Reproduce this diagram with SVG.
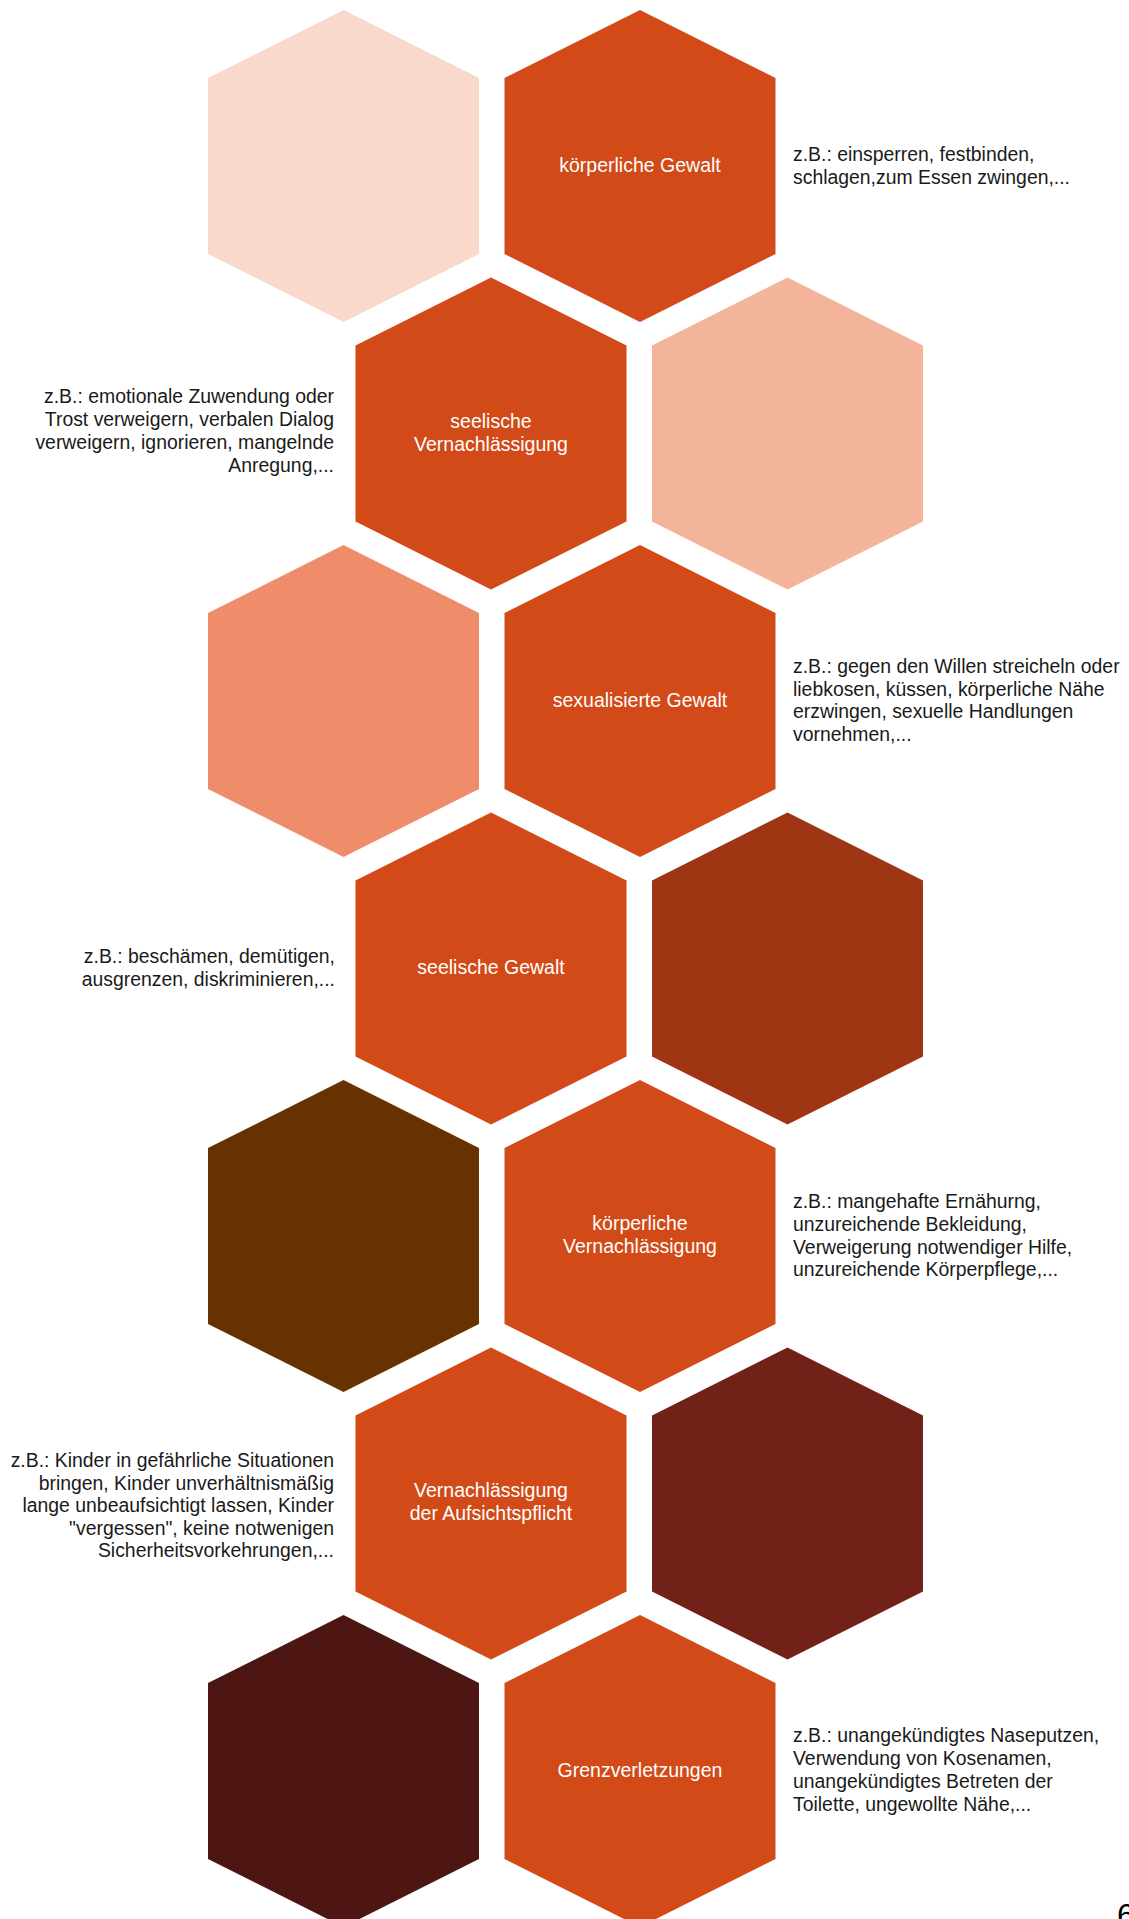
<svg xmlns="http://www.w3.org/2000/svg" width="1129" height="1919" viewBox="0 0 1129 1919">
<style>
  .lbl { font-family: "Liberation Sans", Arial, sans-serif; font-size: 19.5px; fill: #ffffff; text-anchor: middle; }
  .dsc { font-family: "Liberation Sans", Arial, sans-serif; font-size: 19.4px; fill: #1a1a1a; }
  .r { text-anchor: end; }
  .o { fill: #D14A18; }
</style>
<defs>
  <path id="hex" d="M0,0 L135.5,68 L135.5,244 L0,312 L-135.5,244 L-135.5,68 Z"/>
</defs>
<rect x="0" y="0" width="1129" height="1919" fill="#ffffff"/>

<g id="connectors"></g>

<!-- Row 1 -->
<g id="hex-r1-left"><use href="#hex" x="343.5" y="10" fill="#F8D9CC"/></g>
<g id="node-koerperliche-gewalt">
  <use href="#hex" x="640" y="10" class="o"/>
  <text class="lbl" x="640" y="172">körperliche Gewalt</text>
  <text class="dsc" x="793" y="161">z.B.: einsperren, festbinden,</text>
  <text class="dsc" x="793" y="183.5">schlagen,zum Essen zwingen,...</text>
</g>

<!-- Row 2 -->
<g id="node-seelische-vernachlaessigung">
  <use href="#hex" x="491" y="277.5" class="o"/>
  <text class="lbl" x="491" y="428">seelische</text>
  <text class="lbl" x="491" y="451">Vernachlässigung</text>
  <text class="dsc r" x="334" y="403">z.B.: emotionale Zuwendung oder</text>
  <text class="dsc r" x="334" y="426">Trost verweigern, verbalen Dialog</text>
  <text class="dsc r" x="334" y="449">verweigern, ignorieren, mangelnde</text>
  <text class="dsc r" x="334" y="472">Anregung,...</text>
</g>
<g id="hex-r2-right"><use href="#hex" x="787.5" y="277.5" fill="#F3B49B"/></g>

<!-- Row 3 -->
<g id="hex-r3-left"><use href="#hex" x="343.5" y="545" fill="#EF8D6B"/></g>
<g id="node-sexualisierte-gewalt">
  <use href="#hex" x="640" y="545" class="o"/>
  <text class="lbl" x="640" y="707">sexualisierte Gewalt</text>
  <text class="dsc" x="793" y="673">z.B.: gegen den Willen streicheln oder</text>
  <text class="dsc" x="793" y="695.5">liebkosen, küssen, körperliche Nähe</text>
  <text class="dsc" x="793" y="718">erzwingen, sexuelle Handlungen</text>
  <text class="dsc" x="793" y="740.5">vornehmen,...</text>
</g>

<!-- Row 4 -->
<g id="node-seelische-gewalt">
  <use href="#hex" x="491" y="812.5" class="o"/>
  <text class="lbl" x="491" y="974">seelische Gewalt</text>
  <text class="dsc r" x="335" y="963">z.B.: beschämen, demütigen,</text>
  <text class="dsc r" x="335" y="986">ausgrenzen, diskriminieren,...</text>
</g>
<g id="hex-r4-right"><use href="#hex" x="787.5" y="812.5" fill="#9E3513"/></g>

<!-- Row 5 -->
<g id="hex-r5-left"><use href="#hex" x="343.5" y="1080" fill="#663300"/></g>
<g id="node-koerperliche-vernachlaessigung">
  <use href="#hex" x="640" y="1080" class="o"/>
  <text class="lbl" x="640" y="1230">körperliche</text>
  <text class="lbl" x="640" y="1253">Vernachlässigung</text>
  <text class="dsc" x="793" y="1208">z.B.: mangehafte Ernähurng,</text>
  <text class="dsc" x="793" y="1231">unzureichende Bekleidung,</text>
  <text class="dsc" x="793" y="1253.5">Verweigerung notwendiger Hilfe,</text>
  <text class="dsc" x="793" y="1276">unzureichende Körperpflege,...</text>
</g>

<!-- Row 6 -->
<g id="node-aufsichtspflicht">
  <use href="#hex" x="491" y="1347.5" class="o"/>
  <text class="lbl" x="491" y="1497">Vernachlässigung</text>
  <text class="lbl" x="491" y="1520">der Aufsichtspflicht</text>
  <text class="dsc r" x="334" y="1467">z.B.: Kinder in gefährliche Situationen</text>
  <text class="dsc r" x="334" y="1489.5">bringen, Kinder unverhältnismäßig</text>
  <text class="dsc r" x="334" y="1512">lange unbeaufsichtigt lassen, Kinder</text>
  <text class="dsc r" x="334" y="1534.5">"vergessen", keine notwenigen</text>
  <text class="dsc r" x="334" y="1557">Sicherheitsvorkehrungen,...</text>
</g>
<g id="hex-r6-right"><use href="#hex" x="787.5" y="1347.5" fill="#722119"/></g>

<!-- Row 7 -->
<g id="hex-r7-left"><use href="#hex" x="343.5" y="1615" fill="#4E1613"/></g>
<g id="node-grenzverletzungen">
  <use href="#hex" x="640" y="1615" class="o"/>
  <text class="lbl" x="640" y="1777">Grenzverletzungen</text>
  <text class="dsc" x="793" y="1742">z.B.: unangekündigtes Naseputzen,</text>
  <text class="dsc" x="793" y="1765">Verwendung von Kosenamen,</text>
  <text class="dsc" x="793" y="1788">unangekündigtes Betreten der</text>
  <text class="dsc" x="793" y="1811">Toilette, ungewollte Nähe,...</text>
</g>

<text x="1117" y="1926" font-family="Liberation Sans, Arial, sans-serif" font-size="32" fill="#000000">6</text>
</svg>
